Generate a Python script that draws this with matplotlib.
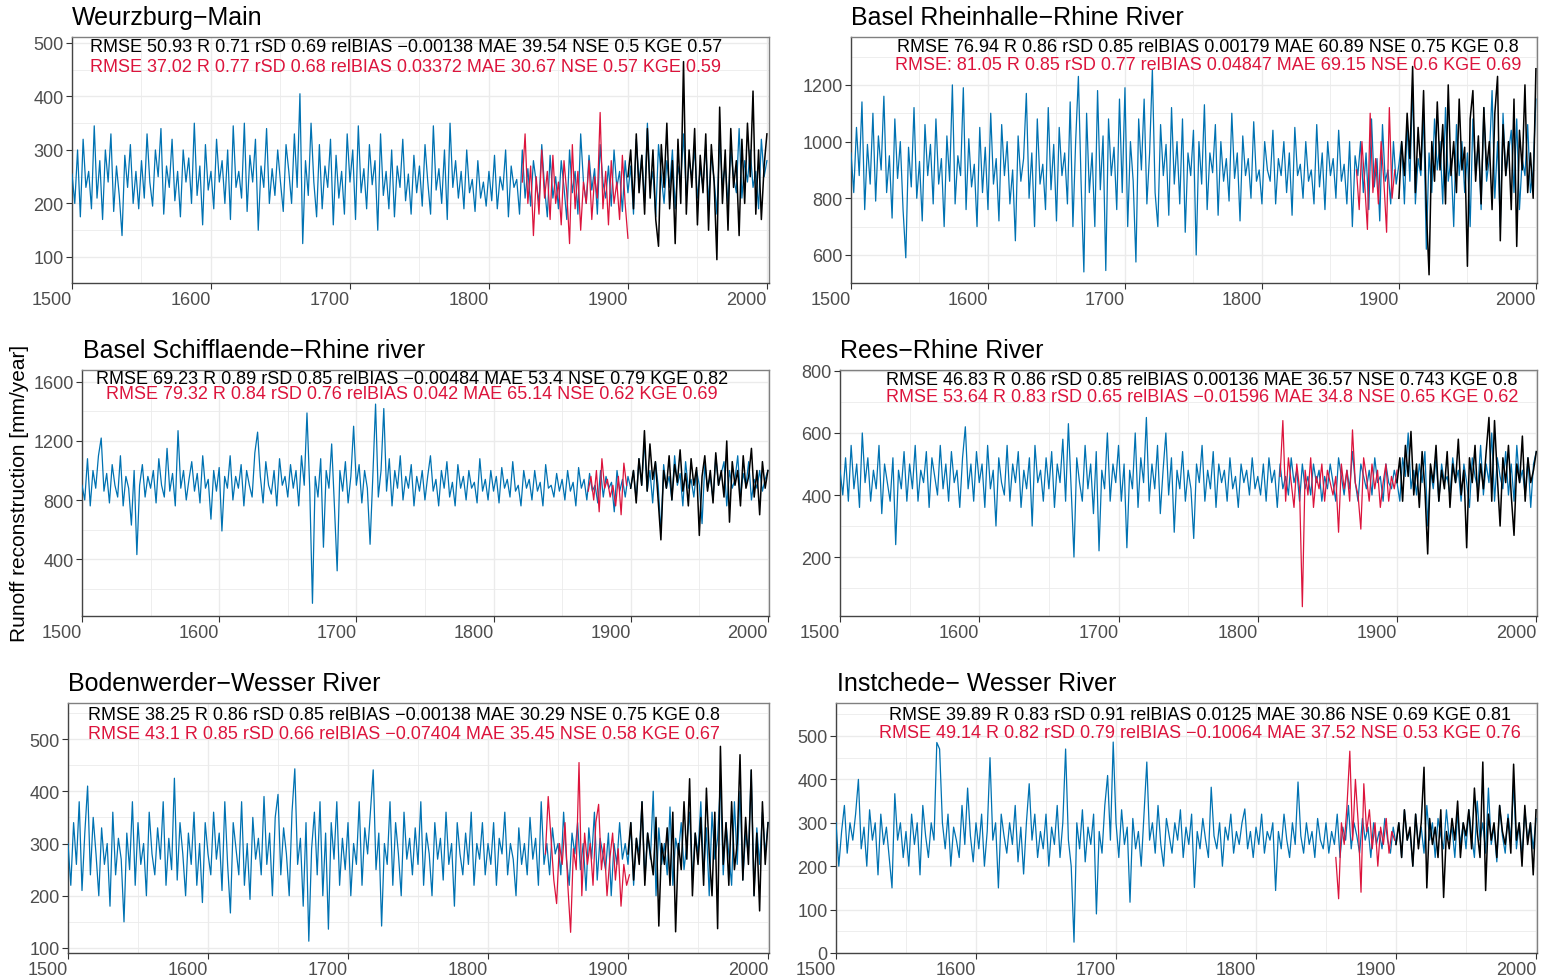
import matplotlib.pyplot as plt
import numpy as np

plt.rcParams['font.family'] = ['Liberation Sans', 'DejaVu Sans']

# ---- data (every second year) ----
blue_years = np.arange(1500, 2001, 2)
black_years = np.arange(1900, 2001, 2)

weurzburg_blue = [
    255, 200, 300, 175, 320, 230, 260, 190, 345, 210, 280, 170, 300, 240, 330, 185, 270, 215, 140, 290, 230, 310, 200, 260, 190,
    280, 210, 330, 240, 195, 300, 250, 340, 180, 270, 230, 320, 205, 260, 175, 300, 240, 285, 200, 350, 215, 270, 160, 310, 225,
    260, 190, 320, 240, 280, 200, 300, 170, 345, 230, 260, 210, 350, 185, 290, 240, 320, 150, 270, 230, 340, 200, 265, 215, 300,
    240, 185, 310, 260, 200, 330, 230, 405, 125, 280, 215, 350, 240, 175, 310, 190, 270, 230, 320, 160, 290, 210, 260, 180, 330,
    240, 300, 170, 345, 220, 265, 190, 310, 235, 280, 150, 330, 215, 260, 190, 300, 175, 270, 230, 320, 205, 255, 180, 290, 220,
    270, 195, 310, 240, 180, 345, 225, 265, 200, 300, 170, 350, 230, 280, 210, 260, 190, 300, 220, 245, 185, 280, 210, 240, 195,
    260, 205, 290, 190, 250, 225, 300, 175, 270, 230, 245, 180, 300, 210, 265, 195, 280, 240, 200, 310, 230, 175, 290, 210, 250,
    190, 280, 230, 170, 300, 220, 260, 180, 330, 240, 200, 290, 225, 265, 180, 310, 240, 210, 270, 195, 300, 230, 260, 185, 280,
    220, 270, 180, 320, 240, 290, 200, 350, 230, 260, 175, 310, 250, 200, 280, 230, 300, 190, 270, 240, 330, 215, 280, 250, 300,
    210, 265, 230, 310, 200, 290, 245, 180, 320, 235, 270, 200, 300, 250, 220, 340, 210, 280, 240, 300, 230, 260, 190, 320, 250,
    280]
weurzburg_red_start = 1824
weurzburg_red = [240, 330, 200, 270, 140, 250, 180, 300, 210, 260, 170, 290, 200, 240, 160, 280, 220, 125, 310, 190,
                 260, 150, 240, 200, 280, 170, 250, 210, 370, 190, 260, 160, 280, 200, 240, 170, 290, 200, 135]
weurzburg_black = [250, 300, 190, 330, 220, 290, 180, 340, 210, 300, 170, 120, 310, 230, 350, 190, 280, 125, 320, 200,
                   465, 180, 300, 230, 340, 160, 290, 220, 330, 150, 310, 240, 95, 380, 200, 300, 150, 340, 230, 280,
                   140, 320, 200, 350, 250, 410, 180, 300, 170, 270, 330]

rheinhalle_blue = [
    960, 820, 1050, 880, 1140, 760, 990, 850, 1100, 790, 1020, 900, 1160, 820, 950, 730, 1080, 870, 1000, 760, 590, 980, 840, 1120, 800,
    930, 720, 1060, 880, 990, 780, 1080, 850, 940, 700, 1020, 860, 1200, 780, 950, 880, 1190, 760, 1010, 840, 920, 700, 1050, 820, 980,
    760, 1100, 850, 940, 720, 1060, 880, 1000, 780, 900, 650, 1020, 860, 940, 1170, 800, 960, 700, 1080, 850, 920, 760, 1120, 830, 990,
    720, 1050, 880, 960, 780, 1140, 700, 1000, 1230, 850, 540, 1100, 820, 960, 700, 1180, 830, 1020, 545, 1080, 880, 980, 760, 1150, 820,
    1190, 700, 1000, 860, 575, 1080, 900, 1150, 780, 960, 1255, 820, 700, 1060, 880, 990, 740, 1120, 850, 1000, 780, 1080, 680, 960, 880,
    1040, 600, 1000, 850, 1130, 760, 960, 890, 1060, 740, 1000, 860, 940, 790, 1100, 870, 960, 720, 1020, 880, 940, 800, 1070, 860, 900,
    780, 1000, 900, 860, 1040, 780, 940, 880, 1000, 820, 960, 740, 1050, 880, 920, 800, 1000, 860, 900, 780, 1060, 840, 960, 760, 1000,
    880, 940, 800, 1040, 860, 920, 780, 1000, 700, 950, 880, 1000, 820, 960, 760, 1080, 840, 940, 720, 1060, 860, 900, 780, 1000, 850,
    920, 1000, 780, 1060, 860, 1200, 780, 940, 880, 1100, 620, 960, 820, 1080, 900, 1000, 780, 1120, 860, 940, 700, 1060, 880, 1000, 820,
    960, 700, 1080, 880, 1000, 760, 1120, 860, 940, 1180, 800, 1000, 700, 1100, 880, 960, 1040, 820, 1080, 760, 940, 880, 1060, 820, 900,
    1150]
rheinhalle_red_start = 1869
rheinhalle_red = [900, 760, 1000, 850, 690, 1100, 820, 940, 780, 1000, 860, 680, 1120, 800, 900]
rheinhalle_black = [800, 1000, 880, 1100, 940, 1265, 820, 1050, 900, 1180, 760, 530, 1000, 860, 1140, 900, 1060, 780, 1200, 880,
                    1000, 820, 1150, 900, 980, 560, 1080, 1180, 860, 1020, 780, 1120, 900, 1000, 760, 1100, 1230, 650, 1060, 880,
                    1000, 760, 1150, 630, 1040, 900, 1200, 820, 960, 800, 1257]

schifflaende_blue = [
    900, 800, 1080, 760, 1000, 880, 1100, 1220, 860, 980, 780, 1040, 900, 820, 1100, 760, 960, 880, 630, 1000, 430, 900, 1040, 820, 960,
    880, 1000, 780, 1080, 900, 820, 1150, 860, 980, 760, 1270, 880, 1000, 800, 940, 1060, 860, 980, 780, 1100, 880, 940, 670, 1000, 860,
    1020, 590, 960, 880, 1100, 800, 960, 880, 1040, 760, 1000, 900, 820, 1120, 1260, 960, 780, 1060, 900, 840, 1000, 760, 1080, 900, 960,
    820, 1040, 880, 1000, 760, 1100, 900, 1390, 880, 100, 960, 820, 1080, 480, 1000, 880, 1180, 760, 320, 1000, 860, 1060, 780, 960, 1300,
    900, 1040, 780, 1000, 880, 500, 960, 1450, 820, 1000, 1420, 860, 1080, 760, 1000, 880, 1100, 800, 960, 880, 1040, 760, 960, 860, 1000,
    800, 960, 1100, 860, 940, 760, 1000, 880, 1060, 820, 920, 760, 1040, 880, 960, 800, 1000, 880, 920, 780, 1080, 860, 940, 800, 1000,
    860, 960, 780, 1020, 880, 940, 820, 1060, 860, 900, 760, 1000, 880, 940, 800, 1000, 860, 920, 760, 1040, 880, 900, 820, 980, 860,
    940, 800, 1000, 860, 920, 760, 1020, 880, 940, 800, 980, 860, 900, 780, 1000, 820, 960, 880, 920, 720, 1000, 860, 940, 820, 960,
    880, 1000, 800, 1080, 900, 1200, 860, 1000, 780, 1060, 900, 580, 1040, 880, 960, 800, 1100, 900, 980, 760, 1060, 880, 940, 820, 1000,
    900, 640, 1040, 880, 960, 800, 1100, 900, 980, 1060, 760, 1000, 880, 940, 1100, 820, 980, 900, 1060, 800, 940, 880, 1000, 860, 940,
    1000]
schifflaende_red_start = 1869
schifflaende_red = [860, 960, 800, 1000, 720, 1080, 880, 940, 820, 900, 760, 960, 700, 1050, 900]
schifflaende_black = [880, 1000, 780, 1080, 900, 1270, 860, 1180, 940, 1060, 800, 530, 1000, 880, 1100, 800, 1040, 920, 1140, 860,
                      980, 760, 1080, 900, 1020, 560, 960, 1100, 860, 1000, 780, 1120, 900, 1000, 820, 1200, 650, 1060, 900, 1000,
                      760, 1100, 880, 960, 1150, 820, 1000, 700, 1060, 880, 1000]

rees_blue = [
    480, 400, 520, 380, 560, 420, 500, 360, 600, 440, 520, 380, 480, 420, 560, 340, 500, 440, 380, 520, 240, 480, 420, 540, 380,
    500, 420, 560, 380, 480, 440, 540, 360, 520, 460, 400, 560, 420, 500, 380, 540, 440, 480, 360, 520, 620, 420, 500, 380, 540,
    440, 500, 360, 560, 420, 480, 300, 520, 440, 400, 560, 380, 500, 440, 540, 360, 480, 420, 520, 300, 560, 440, 480, 380, 520,
    420, 540, 360, 500, 440, 580, 380, 630, 420, 200, 520, 440, 380, 560, 420, 500, 340, 540, 220, 480, 420, 600, 380, 500, 440,
    560, 380, 500, 230, 480, 420, 600, 360, 520, 440, 650, 380, 500, 420, 560, 340, 480, 600, 400, 520, 280, 480, 420, 540, 380,
    480, 420, 260, 500, 440, 560, 380, 480, 420, 540, 360, 500, 440, 480, 380, 520, 420, 460, 360, 500, 440, 480, 400, 520, 420,
    460, 400, 500, 380, 520, 440, 480, 360, 500, 420, 460, 400, 520, 440, 480, 380, 500, 420, 460, 400, 500, 440, 480, 380, 460,
    420, 500, 440, 380, 520, 460, 400, 480, 420, 540, 440, 380, 500, 460, 420, 480, 400, 520, 440, 460, 380, 500, 440, 420, 480,
    440, 380, 520, 460, 600, 420, 480, 400, 500, 440, 540, 300, 480, 420, 520, 380, 500, 440, 460, 400, 520, 440, 480, 380, 500,
    440, 360, 520, 460, 420, 560, 400, 500, 440, 600, 380, 520, 460, 420, 540, 400, 500, 380, 560, 440, 480, 400, 520, 360, 500,
    540]
rees_red_start = 1816
rees_red = [460, 640, 380, 520, 440, 360, 500, 420, 40, 480, 400, 520, 360, 460, 420, 500, 380, 480, 440, 400,
            460, 280, 500, 420, 480, 380, 610, 440, 400, 290, 520, 460, 380, 500, 420, 480, 360, 440, 500, 380,
            460, 420, 480]
rees_black = [440, 520, 380, 560, 460, 605, 400, 500, 360, 540, 420, 210, 500, 440, 560, 380, 480, 420, 540, 360,
              500, 440, 580, 400, 480, 230, 520, 440, 560, 380, 500, 420, 540, 650, 380, 640, 460, 300, 520, 440,
              560, 400, 270, 500, 440, 590, 380, 520, 440, 480, 540]

bodenwerder_blue = [
    300, 220, 340, 260, 380, 210, 320, 410, 240, 350, 280, 200, 330, 260, 300, 180, 360, 240, 310, 270, 150, 320, 250, 380, 220,
    340, 260, 300, 200, 360, 280, 240, 330, 270, 380, 220, 310, 250, 425, 230, 340, 280, 200, 320, 260, 360, 220, 300, 187, 340,
    280, 240, 360, 270, 320, 210, 380, 260, 167, 340, 290, 240, 380, 220, 300, 193, 350, 270, 310, 240, 390, 260, 320, 200, 350,
    394, 240, 330, 280, 200, 360, 443, 260, 310, 180, 340, 113, 290, 360, 240, 380, 200, 320, 136, 340, 270, 380, 220, 310, 250,
    340, 200, 300, 260, 380, 220, 330, 280, 360, 441, 250, 320, 142, 300, 260, 380, 220, 340, 280, 200, 360, 270, 310, 240, 330,
    260, 380, 220, 320, 280, 200, 340, 270, 310, 230, 360, 260, 300, 180, 340, 280, 240, 320, 260, 360, 220, 300, 270, 340, 240,
    300, 260, 340, 220, 310, 280, 360, 240, 300, 270, 200, 330, 260, 300, 240, 350, 270, 310, 220, 380, 260, 300, 240, 330, 280,
    300, 240, 360, 270, 220, 320, 280, 340, 250, 300, 210, 330, 270, 360, 230, 310, 280, 250, 320, 200, 300, 260, 340, 270, 300,
    260, 340, 220, 310, 280, 380, 230, 320, 270, 400, 200, 330, 260, 300, 240, 370, 220, 310, 280, 340, 250, 300, 360, 230, 320,
    280, 380, 240, 330, 200, 360, 270, 310, 420, 240, 340, 280, 220, 380, 260, 400, 230, 320, 280, 440, 200, 330, 260, 360, 280,
    340]
bodenwerder_red_start = 1841
bodenwerder_red = [280, 390, 310, 230, 185, 300, 260, 340, 220, 130, 290, 250, 455, 200, 320, 260, 300, 220, 340, 375,
                   250, 300, 200, 270, 320, 230, 290, 180, 260, 220, 240]
bodenwerder_black = [280, 340, 230, 310, 260, 380, 220, 320, 280, 240, 350, 142, 300, 260, 330, 220, 360, 131, 300, 250,
                     380, 270, 424, 200, 320, 260, 350, 220, 406, 280, 200, 360, 137, 486, 260, 340, 220, 380, 250, 300,
                     470, 230, 350, 260, 441, 200, 320, 171, 380, 260, 340]

instchede_blue = [
    300, 200, 280, 340, 230, 300, 260, 320, 400, 240, 290, 200, 330, 260, 300, 180, 320, 250, 290, 220, 150, 367, 260, 300, 220,
    280, 200, 320, 250, 300, 180, 340, 270, 220, 300, 260, 485, 470, 300, 240, 320, 200, 290, 260, 220, 340, 250, 380, 270, 210,
    300, 240, 320, 200, 280, 450, 260, 300, 150, 320, 270, 230, 300, 250, 340, 210, 290, 182, 300, 390, 260, 320, 220, 280, 240,
    320, 200, 290, 250, 340, 220, 300, 470, 260, 200, 25, 300, 240, 330, 210, 290, 250, 320, 90, 280, 230, 340, 409, 260, 486,
    300, 220, 330, 250, 290, 117, 310, 240, 280, 200, 320, 440, 260, 300, 230, 340, 250, 200, 310, 270, 230, 300, 260, 330, 220,
    290, 250, 320, 151, 280, 240, 310, 260, 220, 382, 270, 240, 300, 200, 290, 260, 320, 230, 280, 250, 300, 332, 240, 280, 220,
    290, 250, 320, 230, 280, 260, 300, 144, 280, 240, 320, 260, 220, 300, 250, 394, 270, 230, 300, 250, 280, 220, 310, 260, 240,
    300, 230, 280, 250, 320, 220, 290, 260, 340, 240, 300, 270, 230, 310, 260, 290, 220, 300, 250, 280, 240, 310, 260, 230, 290,
    250, 300, 220, 330, 260, 280, 200, 320, 250, 290, 230, 340, 260, 300, 220, 310, 270, 240, 330, 260, 290, 220, 320, 250, 300,
    240, 330, 270, 220, 350, 260, 300, 230, 380, 250, 290, 210, 340, 270, 230, 320, 260, 390, 240, 300, 220, 330, 260, 300, 240,
    310]
instchede_red_start = 1857
instchede_red = [220, 125, 300, 250, 340, 465, 260, 400, 300, 140, 390, 280, 330, 240, 300, 200, 290, 250, 310, 230, 280, 260]
instchede_black = [250, 300, 220, 330, 260, 290, 200, 320, 240, 300, 428, 150, 310, 250, 290, 220, 330, 128, 280, 240,
                   310, 260, 350, 220, 300, 270, 330, 240, 380, 280, 220, 440, 144, 320, 260, 300, 220, 340, 280, 250,
                   310, 230, 435, 260, 300, 200, 340, 250, 300, 180, 330]

titles = ['Weurzburg\u2212Main', 'Basel Rheinhalle\u2212Rhine River',
          'Basel Schifflaende\u2212Rhine river', 'Rees\u2212Rhine River',
          'Bodenwerder\u2212Wesser River', 'Instchede\u2212 Wesser River']

stats_black = [
    'RMSE 50.93 R 0.71 rSD 0.69 relBIAS \u22120.00138 MAE 39.54 NSE 0.5 KGE 0.57',
    'RMSE 76.94 R 0.86 rSD 0.85 relBIAS 0.00179 MAE 60.89 NSE 0.75 KGE 0.8',
    'RMSE 69.23 R 0.89 rSD 0.85 relBIAS \u22120.00484 MAE 53.4 NSE 0.79 KGE 0.82',
    'RMSE 46.83 R 0.86 rSD 0.85 relBIAS 0.00136 MAE 36.57 NSE 0.743 KGE 0.8',
    'RMSE 38.25 R 0.86 rSD 0.85 relBIAS \u22120.00138 MAE 30.29 NSE 0.75 KGE 0.8',
    'RMSE 39.89 R 0.83 rSD 0.91 relBIAS 0.0125 MAE 30.86 NSE 0.69 KGE 0.81']
stats_red = [
    'RMSE 37.02 R 0.77 rSD 0.68 relBIAS 0.03372 MAE 30.67 NSE 0.57 KGE 0.59',
    'RMSE: 81.05 R 0.85 rSD 0.77 relBIAS 0.04847 MAE 69.15 NSE 0.6 KGE 0.69',
    'RMSE 79.32 R 0.84 rSD 0.76 relBIAS 0.042 MAE 65.14 NSE 0.62 KGE 0.69',
    'RMSE 53.64 R 0.83 rSD 0.65 relBIAS \u22120.01596 MAE 34.8 NSE 0.65 KGE 0.62',
    'RMSE 43.1 R 0.85 rSD 0.66 relBIAS \u22120.07404 MAE 35.45 NSE 0.58 KGE 0.67',
    'RMSE 49.14 R 0.82 rSD 0.79 relBIAS \u22120.10064 MAE 37.52 NSE 0.53 KGE 0.76']

blues = [weurzburg_blue, rheinhalle_blue, schifflaende_blue, rees_blue, bodenwerder_blue, instchede_blue]
reds = [weurzburg_red, rheinhalle_red, schifflaende_red, rees_red, bodenwerder_red, instchede_red]
red_starts = [weurzburg_red_start, rheinhalle_red_start, schifflaende_red_start,
              rees_red_start, bodenwerder_red_start, instchede_red_start]
blacks = [weurzburg_black, rheinhalle_black, schifflaende_black, rees_black, bodenwerder_black, instchede_black]

yticks = [[100, 200, 300, 400, 500], [600, 800, 1000, 1200], [400, 800, 1200, 1600],
          [200, 400, 600, 800], [100, 200, 300, 400, 500], [0, 100, 200, 300, 400, 500]]

# ---- layout (pixels) ----
W, H = 1552, 978
boxes = [(72, 769, 38, 284), (851, 1537, 38, 284),
         (82, 769, 371, 617), (840, 1537, 371, 617),
         (68, 769, 704, 954), (836, 1537, 704, 954)]
ylims = [(51.4, 511), (501, 1369), (14, 1681), (10, 803), (90.4, 569), (0, 576)]
xmax = [2001.5, 2000.8, 2000.8, 2000.5, 2000.7, 2000.7]
title_pos = [(72, 18), (851, 18), (83, 351), (840, 351), (68, 684), (837, 684)]
stat_pos = [(406, 48, 68), (1208, 47, 66), (412, 380, 395), (1202, 381, 398), (404, 715, 735), (1200, 716, 733)]

BLUE = '#0072B2'
RED = '#DC143C'
GRID = '#EBEBEB'

fig = plt.figure(figsize=(W / 100, H / 100), dpi=100)

for k in range(6):
    l, r, t, b = boxes[k]
    ax = fig.add_axes([l / W, 1 - b / H, (r - l) / W, (b - t) / H])

    ax.plot(blue_years, blues[k], color=BLUE, lw=0.9, zorder=3)
    red_years = red_starts[k] + 2 * np.arange(len(reds[k]))
    ax.plot(red_years, reds[k], color=RED, lw=0.9, zorder=4)
    ax.plot(black_years, blacks[k], color='black', lw=1.1, zorder=5)

    ax.set_xlim(1500, xmax[k])
    ax.set_ylim(*ylims[k])
    ax.set_xticks([1500, 1600, 1700, 1800, 1900, 2000],
                  ['1500', '1600', '1700', '1800', '1900', '2000'], ha='right')
    ax.set_xticks([1550, 1650, 1750, 1850, 1950], minor=True)
    yt = yticks[k]
    step = yt[1] - yt[0]
    ax.set_yticks(yt)
    ax.set_yticks([v for v in np.arange(yt[0] - step / 2, yt[-1] + step, step)
                   if ylims[k][0] <= v <= ylims[k][1]], minor=True)

    ax.grid(True, which='major', color=GRID, lw=1.0, zorder=0)
    ax.grid(True, which='minor', color=GRID, lw=0.6, zorder=0)
    ax.set_axisbelow(True)
    ax.tick_params(which='major', length=4, width=0.8, color='#333333',
                   labelsize=13, labelcolor='#4D4D4D', pad=2)
    ax.tick_params(which='minor', length=0)
    for side in ['left', 'bottom']:
        ax.spines[side].set_color('#444444')
        ax.spines[side].set_linewidth(1.0)
    for side in ['top', 'right']:
        ax.spines[side].set_color('#808080')
        ax.spines[side].set_linewidth(1.0)

    tx, ty = title_pos[k]
    fig.text(tx / W, 1 - ty / H, titles[k], ha='left', va='center', fontsize=18)
    sx, sy1, sy2 = stat_pos[k]
    fig.text(sx / W, 1 - sy1 / H, stats_black[k], ha='center', va='center', fontsize=13, color='black')
    fig.text(sx / W, 1 - sy2 / H, stats_red[k], ha='center', va='center', fontsize=13, color=RED)

fig.text(20 / W, 1 - 493 / H, 'Runoff reconstruction [mm/year]', rotation=90,
         ha='center', va='center', fontsize=15)

fig.savefig('out.png', dpi=100)
